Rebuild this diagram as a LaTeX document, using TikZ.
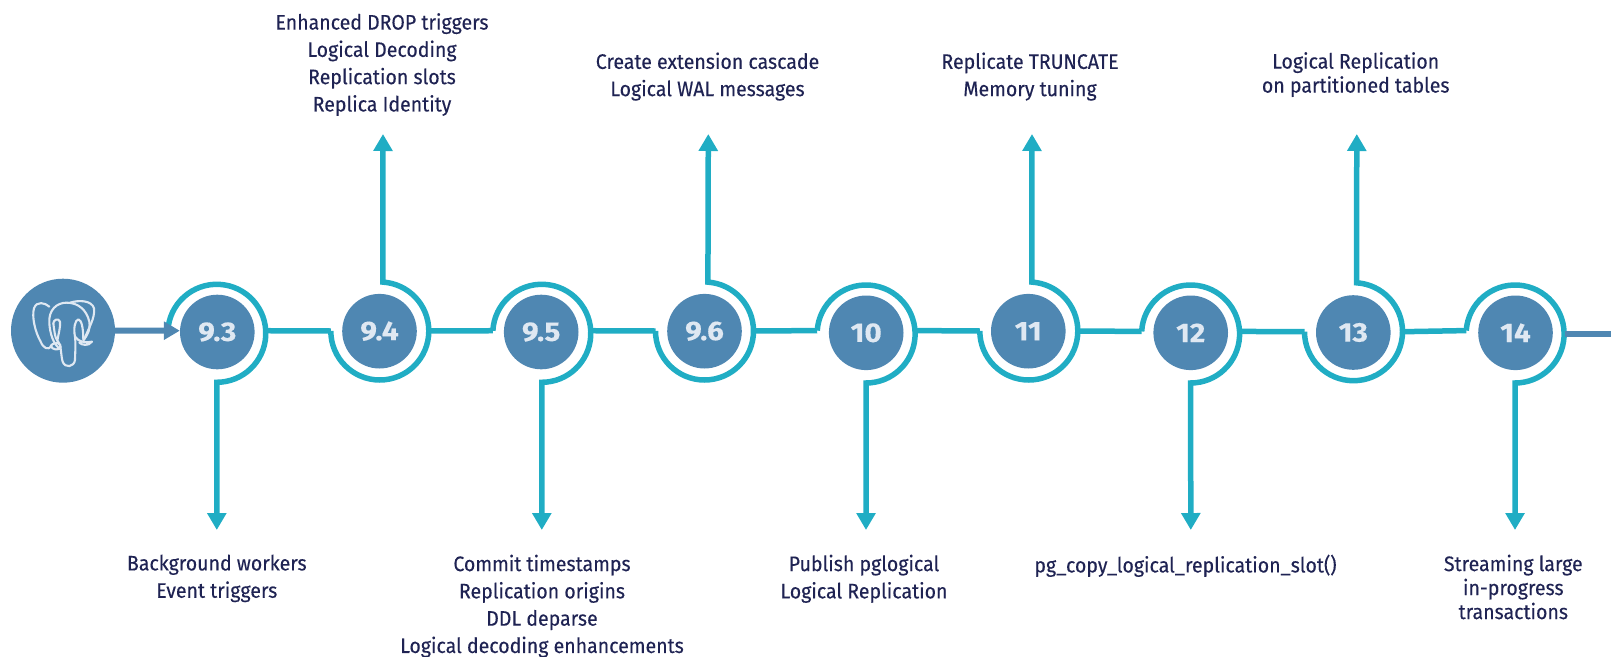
\documentclass[tikz,border=0pt]{standalone}
\usepackage{fontspec}
\setmainfont[FakeStretch=0.93,FakeBold=0.25]{Fira Sans}
\newfontfamily\digitfont[FakeStretch=1.1,FakeBold=0.3]{Fira Sans}
\usetikzlibrary{arrows.meta}
\definecolor{teal1}{HTML}{20ADC4}
\definecolor{blue1}{HTML}{4F87B2}
\definecolor{light1}{HTML}{DFE8F2}
\definecolor{navy1}{HTML}{1F2353}
\tikzset{
  x=1pt,y=-1pt,
  disk/.style={circle,fill=blue1,draw=none,minimum size=74.6pt,inner sep=0pt,text=light1,font=\fontsize{27}{27}\digitfont\bfseries},
  ringbase/.style={circle,draw=none,minimum size=98pt,inner sep=0pt},
  tealline/.style={draw=teal1,line width=5.5pt,line join=miter},
  tealarrow/.style={tealline,-{Triangle[length=17pt,width=18.5pt]}},
  bluearrow/.style={draw=blue1,line width=6pt,-{Triangle[length=16pt,width=17.5pt]}},
  bluerun/.style={draw=blue1,line width=6pt},
  caption/.style={align=center,text=navy1,inner sep=0pt,anchor=north,font=\fontsize{21}{27.3}\selectfont},
  captiontight/.style={caption,font=\fontsize{21}{24}\selectfont},
  elephant/.style={draw=light1,line width=2.1pt,line cap=round,line join=round},
}
\begin{document}
\begin{tikzpicture}
\useasboundingbox (0,0) rectangle (1611,656);
% logo
\node[circle,fill=blue1,minimum size=104pt,inner sep=0pt] (logo) at (63,330.7) {};
\begin{scope}[shift={(20,290)},x=0.3333pt,y=-0.3333pt]
\draw[elephant] (88,50) .. controls (75,38) and (50,32) .. (42,55) .. controls (35,80) and (45,125) .. (62,155) .. controls (70,175) and (85,182) .. (95,168);
\draw[elephant] (122,178) .. controls (100,165) and (90,130) .. (88,100) .. controls (85,60) and (110,38) .. (140,38) .. controls (175,38) and (200,60) .. (208,95) .. controls (212,120) and (200,140) .. (190,150);
\draw[elephant] (150,38) .. controls (175,30) and (215,30) .. (222,55) .. controls (226,85) and (205,115) .. (192,150);
\draw[elephant] (165,140) .. controls (168,165) and (165,195) .. (165,210) .. controls (162,232) and (135,235) .. (128,215) .. controls (122,195) and (125,165) .. (112,152) .. controls (105,145) and (102,115) .. (100,100);
\draw[elephant] (92,168) .. controls (105,152) and (125,160) .. (122,172) .. controls (115,182) and (98,180) .. (92,168);
\draw[elephant] (165,140) .. controls (175,155) and (195,160) .. (216,155) .. controls (205,170) and (185,165) .. (178,158);
\draw[elephant] (165,140) .. controls (160,115) and (165,90) .. (175,88) .. controls (185,90) and (190,115) .. (190,150);
\draw[elephant] (100,100) .. controls (100,90) and (115,82) .. (120,95) .. controls (122,110) and (115,135) .. (112,152);
\end{scope}
% rings (invisible carriers) and disks
\foreach \n/\t/\x/\y/\cx/\cy in {
 a/9.3/217.3/332/217/333.3,
 b/9.4/379.5/331.2/380/331,
 c/9.5/541.2/332/542/333.3,
 d/9.6/704.5/331.2/704.7/331,
 e/10/866.2/332.8/866.3/334,
 f/11/1028.3/331.2/1029/331,
 g/12/1190.7/332.8/1190.8/334,
 h/13/1353.3/332.5/1353.7/331.7,
 i/14/1515.5/332.8/1515.3/334}{
  \node[disk] (d\n) at (\x,\y) {\t};
  \node[ringbase] (r\n) at (\cx,\cy) {};
}
% free ends of the arrows
\coordinate (ta) at (216.8,530);
\coordinate (tb) at (383,134);
\coordinate (tc) at (541.8,530);
\coordinate (td) at (708.3,134);
\coordinate (te) at (866,530);
\coordinate (tf) at (1032,134);
\coordinate (tg) at (1190.8,530);
\coordinate (th) at (1356.8,134);
\coordinate (ti) at (1515,530);
\coordinate (endrun) at (1611,334);
% rings with their arrows
\draw[tealarrow] (ra.177) arc[start angle=177,end angle=-90,radius=49pt] -- (ta);
\draw[tealarrow] (rb.west) arc[start angle=-180,end angle=86.5,radius=49pt] -- (tb);
\draw[tealarrow] (rc.177) arc[start angle=177,end angle=-90,radius=49pt] -- (tc);
\draw[tealarrow] (rd.west) arc[start angle=-180,end angle=86,radius=49pt] -- (td);
\draw[tealarrow] (re.176) arc[start angle=176,end angle=-90,radius=49pt] -- (te);
\draw[tealarrow] (rf.west) arc[start angle=-180,end angle=86.5,radius=49pt] -- (tf);
\draw[tealarrow] (rg.177) arc[start angle=177,end angle=-90,radius=49pt] -- (tg);
\draw[tealarrow] (rh.west) arc[start angle=-180,end angle=86.5,radius=49pt] -- (th);
\draw[tealarrow] (ri.176) arc[start angle=176,end angle=-90,radius=49pt] -- (ti);
% links
\draw[tealline] (ra.3) -- (rb.west);
\draw[tealline] (rb.east) -- (rc.177);
\draw[tealline] (rc.3) -- (rd.west);
\draw[tealline] (rd.east) -- (re.176);
\draw[tealline] (re.4) -- (rf.west);
\draw[tealline] (rf.east) -- (rg.177);
\draw[tealline] (rg.3) -- (rh.west);
\draw[tealline] (rh.east) -- (ri.176);
\draw[bluerun] (ri.east) -- (endrun);
\draw[bluearrow] (logo.east) -- (da.178);
% captions
\node[caption] (ca) at (216.8,554.5) {Background workers\\Event triggers};
\node[caption] (cb) at (382,13) {Enhanced DROP triggers\\Logical Decoding\\Replication slots\\Replica Identity};
\node[caption] (cc) at (542,554.5) {Commit timestamps\\Replication origins\\DDL deparse\\Logical decoding enhancements};
\node[caption] (cd) at (707.5,52.3) {Create extension cascade\\Logical WAL messages};
\node[caption] (ce) at (864,554.5) {Publish pglogical\\Logical Replication};
\node[caption] (cf) at (1030,52.3) {Replicate TRUNCATE\\Memory tuning};
\node[caption] (cg) at (1185.5,554.5) {pg\_copy\_logical\_replication\_slot()};
\node[captiontight] (ch) at (1355.7,52) {Logical Replication\\on partitioned tables};
\node[captiontight] (ci) at (1513.3,554.5) {Streaming large\\in-progress\\transactions};
\end{tikzpicture}
\end{document}
